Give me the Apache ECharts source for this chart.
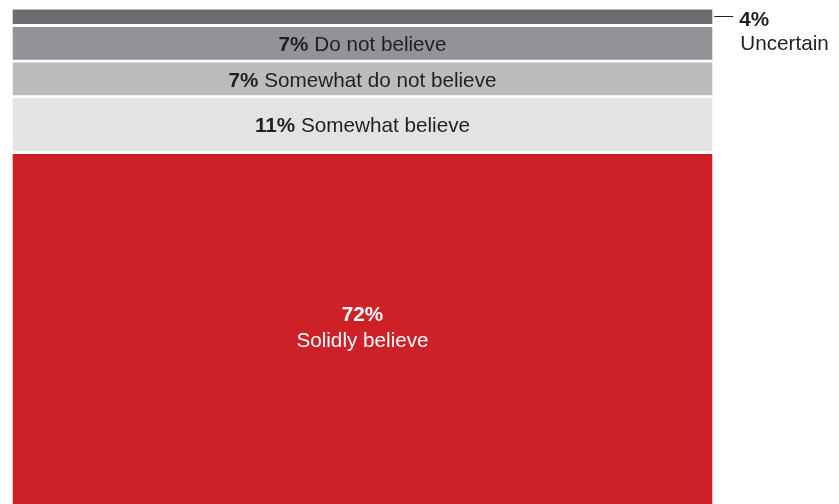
<!DOCTYPE html>
<html>
<head>
<meta charset="utf-8">
<script src="https://cdn.jsdelivr.net/npm/echarts@6/dist/echarts.min.js"></script>
<style>
  html, body { margin: 0; padding: 0; background: #fff; }
  #chart { width: 839px; height: 504px; }
</style>
</head>
<body>
<div id="chart"></div>
<script>
// Data (stacked from bottom to top)
const categories = ['Solidly believe', 'Somewhat believe', 'Somewhat do not believe', 'Do not believe', 'Uncertain'];
const values = [72, 11, 7, 7, 4];
const barCategory = ['All'];

// Styles
const colors = ['#ce2027', '#e2e3e2', '#bbbcbe', '#929396', '#6c6d71'];
const textDark = '#231f20';
const FONT = '"Liberation Sans", Arial, sans-serif';
const FS = 20.7;

const chart = echarts.init(document.getElementById('chart'), null, { renderer: 'canvas' });

function labelFor(i) {
  const pct = values[i] + '%';
  const name = categories[i];
  if (i === 0) {
    return {
      show: true, position: 'inside', offset: [0, -7],
      formatter: '{b|' + pct + '}\n{t|' + name + '}',
      rich: {
        b: { fontFamily: FONT, fontSize: FS, fontWeight: 'bold', color: '#fff', lineHeight: 26, align: 'center' },
        t: { fontFamily: FONT, fontSize: FS, color: '#fff', lineHeight: 26, align: 'center' }
      }
    };
  }
  if (i === values.length - 1) {
    return {
      show: true, position: ['100%', 0], offset: [0.5, 8], align: 'left', verticalAlign: 'top',
      formatter: '{ln| }{gap| }{b|' + pct + '}\n{ind| }{t|' + name + '}',
      rich: {
        ln: { width: 19, height: 1, backgroundColor: textDark, lineHeight: 8, verticalAlign: 'top' },
        gap: { width: 6, lineHeight: 8 },
        b: { fontFamily: FONT, fontSize: FS, fontWeight: 'bold', color: textDark, lineHeight: 8 },
        ind: { width: 26, lineHeight: 41 },
        t: { fontFamily: FONT, fontSize: FS, color: textDark, lineHeight: 41 }
      }
    };
  }
  return {
    show: true, position: 'inside', offset: [0, 2],
    formatter: '{b|' + pct + '} {t|' + name + '}',
    fontFamily: FONT, fontSize: FS, color: textDark,
    rich: {
      b: { fontFamily: FONT, fontSize: FS, fontWeight: 'bold', color: textDark },
      t: { fontFamily: FONT, fontSize: FS, color: textDark }
    }
  };
}

const series = values.map((v, i) => ({
  name: categories[i],
  type: 'bar',
  stack: 'total',
  barWidth: '100%',
  clip: i !== 0,
  data: [v],
  itemStyle: { color: colors[i], borderColor: '#fff', borderWidth: 1.4 },
  label: labelFor(i),
  silent: true
}));

chart.setOption({
  animation: false,
  grid: { left: 11.3, right: 125.3, top: 8.7, bottom: 0 },
  xAxis: { type: 'category', data: barCategory, show: false, boundaryGap: true },
  yAxis: { type: 'value', min: 2.9, max: 100.3, show: false },
  series: series
});
</script>
</body>
</html>
